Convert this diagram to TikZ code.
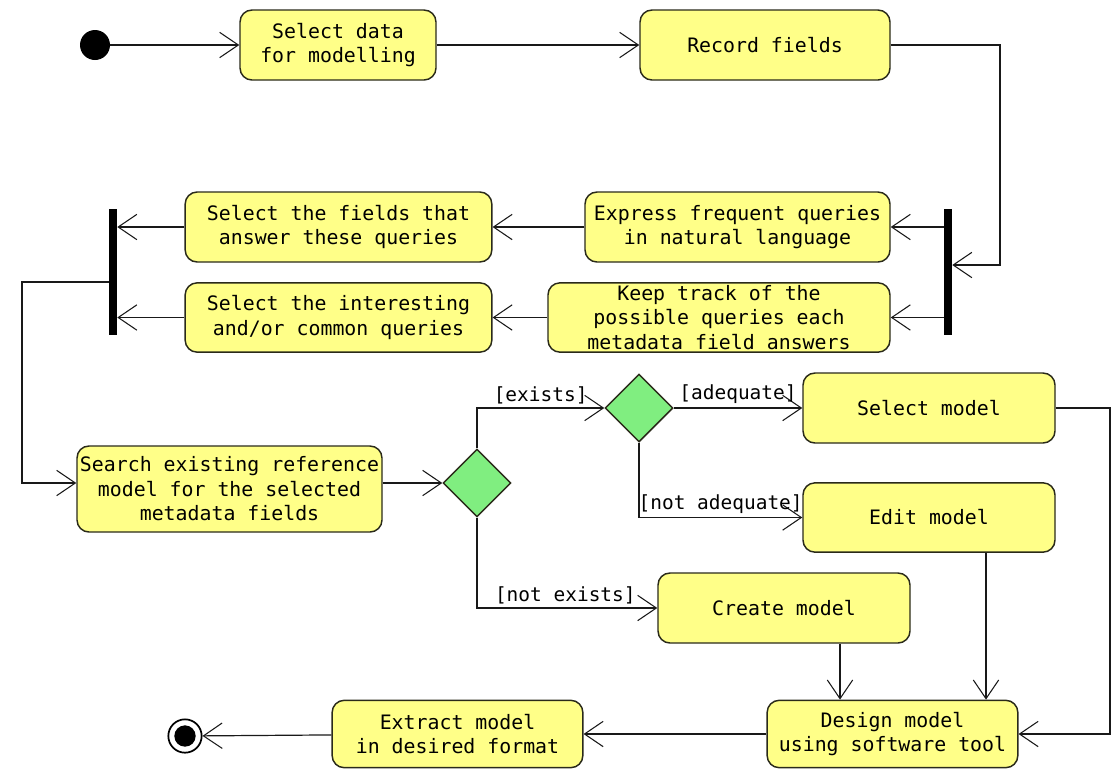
\documentclass[tikz,border=0pt]{standalone}
\usepackage{fontspec}
\setmonofont{DejaVu Sans Mono}
\usetikzlibrary{arrows.meta,shapes.geometric,calc}
\definecolor{actfill}{HTML}{FFFF88}
\definecolor{decfill}{HTML}{80EE80}
\definecolor{edge}{HTML}{2A2A1A}
\begin{document}
\begin{tikzpicture}[x=0.75pt,y=-0.75pt,
  act/.style={draw=edge, line width=1.1pt, fill=actfill, rounded corners=9pt, align=center,
    inner sep=0pt, font=\ttfamily\fontsize{14.9}{18.4}\selectfont, text=black},
  dec/.style={diamond, draw=edge, line width=1.1pt, fill=decfill, minimum size=51pt, inner sep=0pt},
  forkbar/.style={fill=black, minimum width=6pt, minimum height=94.5pt, inner sep=0pt},
  flow/.style={line width=0.9pt, draw=black!90, -{Straight Barb[length=14pt,width=19pt,line width=0.8pt]}},
  guard/.style={font=\ttfamily\fontsize{14.6}{17}\selectfont, inner sep=0pt, text=black}
]
\useasboundingbox (0,0) rectangle (1118,769);
% start / end
\node[circle, fill=black, minimum size=22.5pt, inner sep=0pt] (start) at (95,45) {};
\node[circle, draw=black, line width=1.3pt, fill=white, minimum size=25pt, inner sep=0pt] (endo) at (185,736) {};
\node[circle, fill=black, minimum size=16pt, inner sep=0pt] (endi) at (endo.center) {};
% activities
\node[act, minimum width=147pt, minimum height=52.5pt] (a1) at (338,45) {Select data\\for modelling};
\node[act, minimum width=187.5pt, minimum height=52.5pt] (a2) at (765,45) {Record fields};
\node[act, minimum width=228.75pt, minimum height=52.5pt] (a3) at (737.5,227) {Express frequent queries\\in natural language};
\node[act, minimum width=256.5pt, minimum height=52pt] (a4) at (719,317.5) {Keep track of the\\possible queries each\\metadata field answers};
\node[act, minimum width=230pt, minimum height=52.5pt] (a5) at (338.5,227) {Select the fields that\\answer these queries};
\node[act, minimum width=230pt, minimum height=52pt] (a6) at (338.5,317.5) {Select the interesting\\and/or common queries};
\node[act, minimum width=228.75pt, minimum height=64.5pt] (a7) at (229.5,489) {Search existing reference\\model for the selected\\metadata fields};
\node[act, minimum width=189pt, minimum height=52.5pt] (a8) at (929,408) {Select model};
\node[act, minimum width=189pt, minimum height=52pt] (a9) at (929,517.5) {Edit model};
\node[act, minimum width=189pt, minimum height=52.5pt] (a10) at (784,608) {Create model};
\node[act, minimum width=188pt, minimum height=50.5pt] (a11) at (892.5,734) {Design model\\using software tool};
\node[act, minimum width=188pt, minimum height=50.5pt] (a12) at (457.5,734) {Extract model\\in desired format};
% bars
\node[forkbar] (forkR) at (948,272) {};
\node[forkbar] (forkL) at (113,272) {};
% decisions
\node[dec] (d1) at (477,483) {};
\node[dec] (d2) at (639,408) {};
% helper coordinates
\coordinate (c1) at (1000,265);
\coordinate (c2) at (22,282);
\coordinate (c3) at (22,483);
\coordinate (c4) at (1110,734);
% connectors
\draw[flow] (start) -- (a1);
\draw[flow] (a1) -- (a2);
\draw[flow] (a2.east) -| (c1) -- (c1 -| forkR.east);
\draw[flow] (forkR.west |- a3.east) -- (a3.east);
\draw[flow] (forkR.west |- a4.east) -- (a4.east);
\draw[flow] (a3.west) -- (a5.east);
\draw[flow] (a4.west) -- (a6.east);
\draw[flow] (a5.west) -- (forkL.east |- a5.west);
\draw[flow] (a6.west) -- (forkL.east |- a6.west);
\draw[flow] (c2 -| forkL.west) -- (c2) -- (c3) -- (c3 -| a7.west);
\draw[flow] (a7.east |- d1.west) -- (d1.west);
\draw[flow] (d1.north) |- (d2.west) node[guard, pos=0.75, above=2.5pt] {[exists]};
\draw[flow] (d2.east) -- (a8.west) node[guard, midway, above=2.5pt] {[adequate]};
\draw[flow] (d2.south) |- (a9.west) node[guard, pos=0.75, above=2.5pt] {[not adequate]};
\draw[flow] (d1.south) |- (a10.west) node[guard, pos=0.745, above=2.5pt] {[not exists]};
\draw[flow] ([xshift=42pt]a10.south) -- ([xshift=42pt]a10.south |- a11.north);
\draw[flow] ([xshift=42.75pt]a9.south) -- ([xshift=42.75pt]a9.south |- a11.north);
\draw[flow] (a8.east) -| (c4) -- (a11.east);
\draw[flow] (a11) -- (a12);
\draw[flow] (a12) -- (endo);
\end{tikzpicture}
\end{document}
